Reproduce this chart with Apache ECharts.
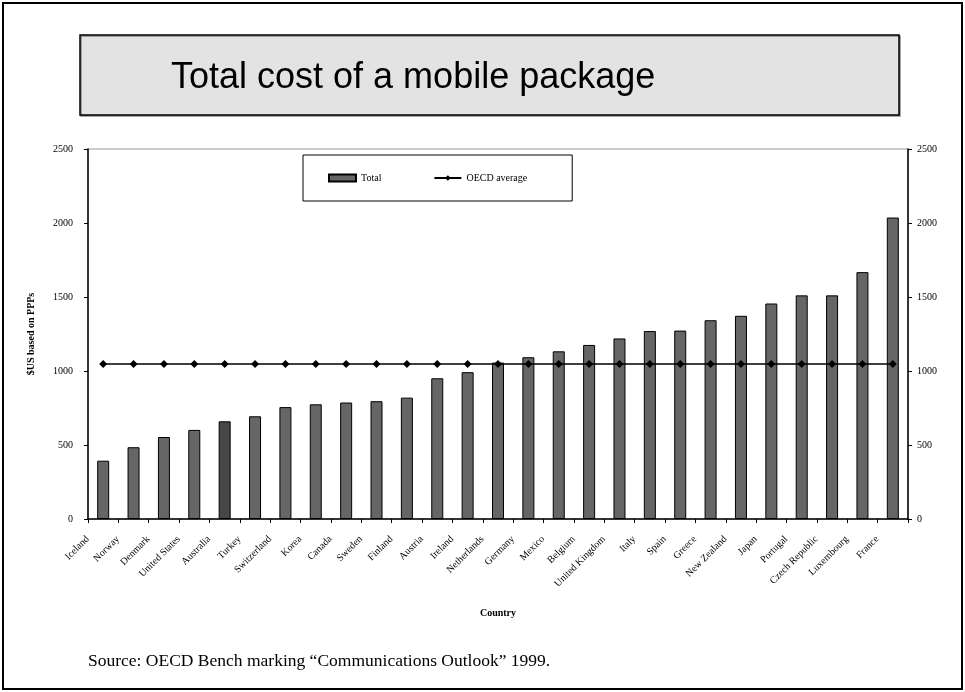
<!DOCTYPE html>
<html>
<head>
<meta charset="utf-8">
<script src="https://cdn.jsdelivr.net/npm/echarts@6/dist/echarts.min.js"></script>
<style>
  html, body { margin: 0; padding: 0; background: #fff; }
  #main { width: 965px; height: 692px; }
</style>
</head>
<body>
<div id="main"></div>
<script>
// categories and values
var countries = ['Iceland', 'Norway', 'Denmark', 'United States', 'Australia', 'Turkey', 'Switzerland',
  'Korea', 'Canada', 'Sweden', 'Finland', 'Austria', 'Ireland', 'Netherlands', 'Germany', 'Mexico',
  'Belgium', 'United Kingdom', 'Italy', 'Spain', 'Greece', 'New Zealand', 'Japan', 'Portugal',
  'Czech Republic', 'Luxembourg', 'France'];
var totalCost = [394, 485, 554, 602, 660, 694, 756, 775, 787, 796, 820, 951, 992, 1057, 1093, 1133,
  1176, 1220, 1270, 1273, 1343, 1373, 1456, 1511, 1511, 1668, 2037];
var oecdAverage = [1047, 1047, 1047, 1047, 1047, 1047, 1047, 1047, 1047, 1047, 1047, 1047, 1047, 1047,
  1047, 1047, 1047, 1047, 1047, 1047, 1047, 1047, 1047, 1047, 1047, 1047, 1047];
var highlighted = 'Australia';

var serif = '"Liberation Serif", "Times New Roman", serif';

var chart = echarts.init(document.getElementById('main'));

var barData = totalCost.map(function (v, i) {
  if (countries[i] === highlighted) {
    return { value: v, itemStyle: { color: '#474747' } };
  }
  return v;
});

var yAxisCommon = {
  type: 'value',
  min: 0,
  max: 2500,
  interval: 500,
  axisLine: { show: true, lineStyle: { color: '#000', width: 1.5 } },
  axisTick: { show: true, length: 4, lineStyle: { color: '#000' } },
  splitLine: { show: false }
};

var option = {
  animation: false,
  backgroundColor: '#fff',
  grid: {
    left: 88, right: 57, top: 149, bottom: 173,
    show: true, borderColor: '#999', borderWidth: 1
  },
  legend: {
    left: 303, top: 155,
    data: [{ name: 'Total', icon: 'rect' }, { name: 'OECD average' }],
    itemWidth: 27, itemHeight: 7, itemGap: 52,
    padding: [18, 45, 18, 25],
    borderColor: '#000', borderWidth: 1,
    textStyle: { color: '#000', fontFamily: serif, fontSize: 10 }
  },
  xAxis: {
    type: 'category',
    data: countries,
    boundaryGap: true,
    name: 'Country',
    nameLocation: 'middle',
    nameGap: 89,
    nameTextStyle: { color: '#000', fontFamily: serif, fontSize: 10, fontWeight: 'bold' },
    axisLine: { lineStyle: { color: '#000', width: 1.5 } },
    axisTick: { show: true, length: 4, interval: 0, lineStyle: { color: '#000' } },
    axisLabel: {
      interval: 0, rotate: 45, margin: 3,
      padding: [0, 22, 0, 0],
      color: '#000', fontFamily: serif, fontSize: 10
    }
  },
  yAxis: [
    Object.assign({}, yAxisCommon, {
      position: 'left',
      name: '$US based on PPPs',
      nameLocation: 'middle',
      nameGap: 52,
      nameTextStyle: { color: '#000', fontFamily: serif, fontSize: 10, fontWeight: 'bold' },
      axisLabel: { color: '#000', fontFamily: serif, fontSize: 10, margin: 15,
        formatter: function (v) { return String(v); } }
    }),
    Object.assign({}, yAxisCommon, {
      position: 'right',
      axisLabel: { color: '#000', fontFamily: serif, fontSize: 10, margin: 9,
        formatter: function (v) { return String(v); } }
    })
  ],
  series: [
    {
      name: 'Total',
      type: 'bar',
      data: barData,
      barWidth: 12,
      itemStyle: { color: '#666666', borderColor: '#000', borderWidth: 1 }
    },
    {
      name: 'OECD average',
      type: 'line',
      data: oecdAverage,
      symbol: 'diamond',
      symbolSize: 8,
      itemStyle: { color: '#000' },
      lineStyle: { color: '#000', width: 1.5 }
    }
  ],
  graphic: [
    {
      type: 'rect',
      shape: { x: 3, y: 3, width: 959, height: 686 },
      style: { fill: 'none', stroke: '#000', lineWidth: 2 },
      z: 100
    },
    {
      type: 'rect',
      shape: { x: 80, y: 35, width: 819, height: 80 },
      style: {
        fill: '#e3e3e3', stroke: '#000', lineWidth: 1.5,
        shadowColor: '#888', shadowOffsetX: 1, shadowOffsetY: 1
      }
    },
    {
      type: 'text',
      left: 171, top: 60,
      style: {
        text: 'Total cost of a mobile package',
        fill: '#000',
        font: '36px "Liberation Sans", Arial, sans-serif'
      }
    },
    {
      type: 'text',
      left: 88, top: 652,
      style: {
        text: 'Source: OECD Bench marking \u201cCommunications Outlook\u201d 1999.',
        fill: '#000',
        font: '17.5px "Liberation Serif", "Times New Roman", serif'
      }
    }
  ]
};

chart.setOption(option);

window.addEventListener('resize', function () {
  chart.resize();
});
</script>
</body>
</html>
